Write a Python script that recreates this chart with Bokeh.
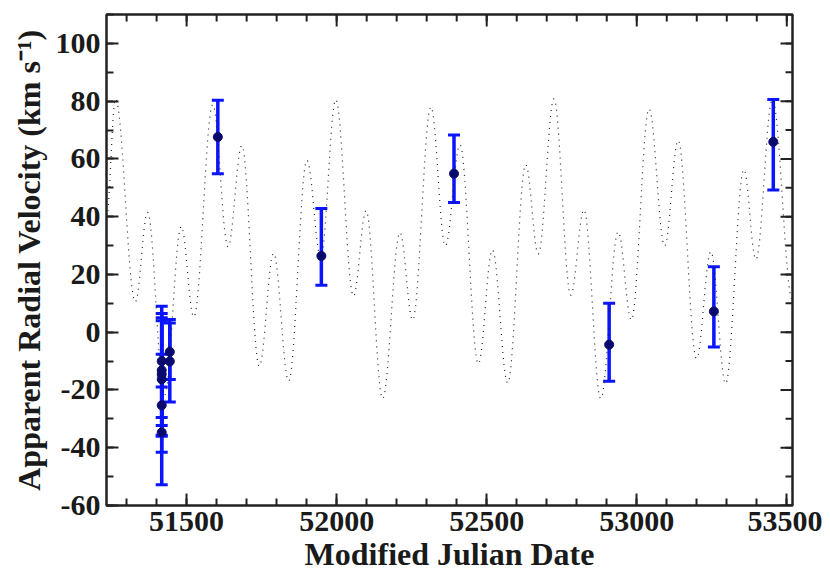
import numpy as np
from bokeh.plotting import figure
from bokeh.models import Range1d, FixedTicker, Whisker, TeeHead, ColumnDataSource
from bokeh.embed import file_html
from bokeh.resources import INLINE

# Model curve: extrema (MJD, km/s)
curve_mjd = [51233, 51263, 51329, 51370, 51426, 51482, 51524, 51587, 51638, 51684,
             51742, 51790, 51840, 51901, 51947, 51997, 52056, 52098, 52153, 52211,
             52253, 52314, 52362, 52411, 52472, 52519, 52570, 52630, 52672, 52724,
             52780, 52824, 52880, 52938, 52982, 53041, 53093, 53138, 53199, 53247,
             53296, 53357, 53397, 53452, 53519]
curve_vel = [40, 80.8, 10.5, 41.5, -22, 36.6, 5.3, 78.8, 29.6, 64.6,
             -11.8, 27.3, -16.9, 59.5, 26, 80.5, 12.5, 42.1, -23.0, 34.5,
             4.2, 78.0, 29.9, 64.9, -10.9, 28.5, -17.6, 58.0, 27.1, 80.8,
             12.8, 42.4, -23.0, 34.8, 4.2, 77.3, 29.9, 66.4, -9.1, 27.9,
             -17.8, 56.3, 25.2, 80.6, 11]

# Observations
obs_mjd = [51417, 51417, 51417, 51417, 51417, 51417, 51444, 51444,
           51604, 51949, 52391, 52908, 53257, 53455]
obs_vel = [-10.0, -13.2, -14.6, -16.3, -25.3, -34.7, -6.8, -10.1,
           67.6, 26.4, 54.9, -4.3, 7.2, 65.9]
obs_upper = [9.0, 5.0, 6.5, 4.0, -7.6, -19.0, 3.2, 4.4,
             80.3, 42.8, 68.3, 10.0, 22.7, 80.6]
obs_lower = [-29.5, -32.3, -35.7, -36.0, -41.6, -52.8, -16.4, -24.2,
             54.9, 16.3, 44.9, -17.0, -5.1, 49.2]

x_major = [51500, 52000, 52500, 53000, 53500]
x_minor = list(range(51300, 53600, 100))
y_major = [-60, -40, -20, 0, 20, 40, 60, 80, 100]
y_minor = list(range(-60, 111, 10))

X0, X1 = 51233, 53519
Y0, Y1 = -60, 110

FONT = "Liberation Serif"
TXT = "#1a1a1a"
TICK = "#222222"

p = figure(width=822, height=578,
           x_range=Range1d(X0, X1), y_range=Range1d(Y0, Y1),
           output_backend="svg", toolbar_location=None,
           min_border_left=106, min_border_right=30, min_border_top=14, min_border_bottom=73,
           x_axis_label="Modified Julian Date",
           y_axis_label="Apparent Radial Velocity (km s\u207b\u00b9)")
p.xgrid.visible = False
p.ygrid.visible = False
p.background_fill_color = "white"
p.border_fill_color = "white"
p.outline_line_color = TICK
p.outline_line_width = 2.5
p.outline_line_alpha = 1.0

# smooth dotted model curve through the read extrema
xs, ys = [], []
for i in range(len(curve_mjd) - 1):
    x0, x1 = curve_mjd[i], curve_mjd[i + 1]
    y0, y1 = curve_vel[i], curve_vel[i + 1]
    t = np.linspace(0, 1, 30, endpoint=(i == len(curve_mjd) - 2))
    xs.extend(x0 + (x1 - x0) * t)
    ys.extend(y0 + (y1 - y0) * (1 - np.cos(np.pi * t)) / 2)
p.line(xs, ys, line_color="#222222", line_width=1.2, line_dash="1 5")

src = ColumnDataSource(dict(x=obs_mjd, y=obs_vel, up=obs_upper, lo=obs_lower))
w = Whisker(base="x", upper="up", lower="lo", source=src, dimension="height",
            line_color="#0a14ff", line_width=3.5,
            upper_head=TeeHead(size=12, line_color="#0a14ff", line_width=3),
            lower_head=TeeHead(size=12, line_color="#0a14ff", line_width=3))
p.add_layout(w)
p.scatter("x", "y", source=src, size=9, color="#0a0a6e")

def style(ax, ticks, minor):
    ax.ticker = FixedTicker(ticks=ticks, minor_ticks=minor)
    ax.axis_line_color = None
    ax.major_tick_in = 12
    ax.major_tick_out = 0
    ax.minor_tick_in = 7
    ax.minor_tick_out = 0
    ax.major_tick_line_width = 2
    ax.minor_tick_line_width = 2
    ax.major_tick_line_color = TICK
    ax.minor_tick_line_color = TICK
    ax.major_label_text_font = FONT
    ax.major_label_text_font_style = "bold"
    ax.major_label_text_color = TXT
    ax.major_label_text_font_size = "30px"
    ax.major_label_standoff = 6
    ax.major_label_overrides = {v: str(v) for v in ticks}
    ax.axis_label_text_font = FONT
    ax.axis_label_text_font_style = "bold"
    ax.axis_label_text_font_size = "32px"
    ax.axis_label_text_color = TXT
    ax.axis_label_standoff = 2

style(p.xaxis[0], x_major, x_minor)
style(p.yaxis[0], y_major, y_minor)
p.yaxis[0].axis_label_standoff = 6

# inward ticks on the top and right edges (no labels)
p.ray(x=x_major, y=[Y1] * len(x_major), length=12, length_units="screen",
      angle=-np.pi / 2, line_color=TICK, line_width=2)
p.ray(x=x_minor, y=[Y1] * len(x_minor), length=7, length_units="screen",
      angle=-np.pi / 2, line_color=TICK, line_width=2)
p.ray(x=[X1] * len(y_major), y=y_major, length=12, length_units="screen",
      angle=np.pi, line_color=TICK, line_width=2)
p.ray(x=[X1] * len(y_minor), y=y_minor, length=7, length_units="screen",
      angle=np.pi, line_color=TICK, line_width=2)

open("out.html", "w").write(file_html(p, INLINE))
